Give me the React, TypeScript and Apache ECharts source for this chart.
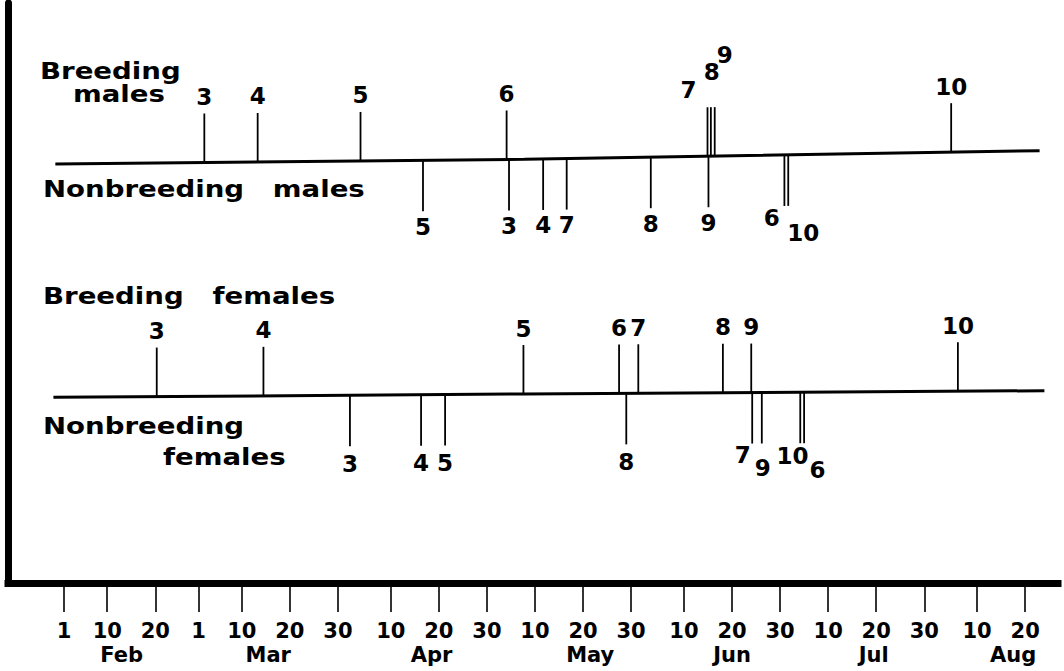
import React, { useEffect, useRef } from "react";
import * as echarts from "echarts";

// ---- Axis (day of year) ----
const tickDays = [32, 41, 51, 60, 69, 79, 89, 100, 110, 120, 130, 140, 150, 161, 171, 181, 191, 201, 211, 222, 232];
const tickLabels = ["1", "10", "20", "1", "10", "20", "30", "10", "20", "30", "10", "20", "30", "10", "20", "30", "10", "20", "30", "10", "20"];
const monthNames = ["Feb", "Mar", "Apr", "May", "Jun", "Jul", "Aug"];
const monthLabelDays = [44, 74.5, 108.5, 141.5, 171, 200.5, 229.5];

// ---- Events (day of year) with their numbers ----
const breedingMalesLabels = ["3", "4", "5", "6", "7", "8", "9", "10"];
const breedingMalesDays = [61.2, 72.3, 93.7, 124.1, 165.9, 166.6, 167.4, 216.6];
const nonbreedingMalesLabels = ["5", "3", "4", "7", "8", "9", "6", "10"];
const nonbreedingMalesDays = [106.7, 124.6, 131.7, 136.6, 154.1, 166.1, 181.9, 182.7];
const breedingFemalesLabels = ["3", "4", "5", "6", "7", "8", "9", "10"];
const breedingFemalesDays = [51.3, 73.5, 127.6, 147.5, 151.5, 169.1, 175.0, 218.0];
const nonbreedingFemalesLabels = ["3", "4", "5", "8", "7", "9", "10", "6"];
const nonbreedingFemalesDays = [91.5, 106.3, 111.3, 149.0, 175.2, 177.2, 185.2, 186.0];

// ---- Layout (not data) ----
const X_MIN = 20.35;
const X_MAX = 238.83;
const Y_MAX = 580;
const maleBaseline = { days: [30.2, 127.8, 235], levels: [419, 423.7, 432.3] };
const femaleBaseline = { days: [29.8, 127.8, 236], levels: [185.7, 189, 192.3] };
const UP_LEN = 49;
const DOWN_LEN = 51;
const UP_GAP = 16.5;
const DOWN_GAP_M = 15.5;
const DOWN_GAP_F = 17.5;
const maleUpOffsets: Record<string, number[]> = { "7": [-19, -1], "8": [1, -19], "9": [10, -36] };
const maleDownOffsets: Record<string, number[]> = { "6": [-12.6, -3.4], "10": [15, 11.6] };
const femaleUpOffsets: Record<string, number[]> = {};
const femaleDownOffsets: Record<string, number[]> = { "7": [-9.4, -6], "9": [1, 7.3], "10": [-7.7, -5], "6": [13.3, 9] };

const FONT = "DejaVu Sans";
const INK = "#000";

function baseLevel(bl: { days: number[]; levels: number[] }, day: number) {
  const d = bl.days, l = bl.levels;
  let i = 0;
  if (day >= d[1]) i = 1;
  const t = (day - d[i]) / (d[i + 1] - d[i]);
  return l[i] + t * (l[i + 1] - l[i]);
}

function markSeries(
  name: string,
  days: number[],
  labels: string[],
  baseline: { days: number[]; levels: number[] },
  dir: number,
  gap: number,
  offsets: Record<string, number[]>
) {
  return {
    type: "custom",
    name,
    coordinateSystem: "cartesian2d",
    silent: true,
    data: days.map((d) => [d, baseLevel(baseline, d)]),
    renderItem: (params: any, api: any) => {
      const i = params.dataIndex;
      const day = days[i];
      const lab = labels[i];
      const base = baseLevel(baseline, day);
      const tip = base + dir * (dir > 0 ? UP_LEN : DOWN_LEN);
      const p0 = api.coord([day, base]);
      const p1 = api.coord([day, tip]);
      const off = offsets[lab] || [0, 0];
      const ty = p1[1] + (dir > 0 ? -gap : gap) + off[1];
      return {
        type: "group",
        children: [
          {
            type: "line",
            shape: { x1: p0[0], y1: p0[1], x2: p1[0], y2: p1[1] },
            style: { stroke: INK, lineWidth: 1.8 },
          },
          {
            type: "text",
            x: p1[0] + off[0],
            y: ty,
            style: {
              text: lab,
              fill: INK,
              fontSize: 23,
              fontWeight: "bold",
              fontFamily: FONT,
              align: "center",
              verticalAlign: "middle",
            },
          },
        ],
      };
    },
  };
}

function baselineSeries(name: string, bl: { days: number[]; levels: number[] }) {
  return {
    type: "line",
    name,
    silent: true,
    showSymbol: false,
    symbol: "none",
    data: bl.days.map((d, i) => [d, bl.levels[i]]),
    lineStyle: { color: INK, width: 3 },
    z: 1,
  };
}

const titles = [
  { text: "Breeding", x: 40, y: 71 },
  { text: "males", x: 73, y: 93.5 },
  { text: "Nonbreeding   males", x: 43, y: 188.5 },
  { text: "Breeding   females", x: 43, y: 296 },
  { text: "Nonbreeding", x: 43, y: 425.5 },
  { text: "females", x: 163, y: 457 },
];

export default function App() {
  const ref = useRef<HTMLDivElement>(null);
  useEffect(() => {
    if (!ref.current) return;
    const chart = echarts.init(ref.current, null, { renderer: "svg" });
    const labelFont = { fontSize: 21, fontWeight: "bold", fontFamily: FONT, color: INK };
    chart.setOption({
      animation: false,
      backgroundColor: "#fff",
      grid: { left: 8, right: 6, top: 3, bottom: 88, containLabel: false },
      xAxis: [
        {
          type: "value",
          min: X_MIN,
          max: X_MAX,
          position: "bottom",
          axisLine: { show: true, onZero: false, lineStyle: { color: INK, width: 7, cap: "square" } },
          axisTick: { show: true, customValues: tickDays, length: 29, lineStyle: { color: INK, width: 1.6 } },
          axisLabel: {
            show: true,
            customValues: tickDays,
            margin: 37,
            formatter: (v: number) => {
              const k = tickDays.indexOf(v);
              return k >= 0 ? tickLabels[k] : "";
            },
            ...labelFont,
          },
          splitLine: { show: false },
        },
        {
          type: "value",
          min: X_MIN,
          max: X_MAX,
          position: "bottom",
          offset: 0,
          axisLine: { show: false },
          axisTick: { show: false },
          axisLabel: {
            show: true,
            customValues: monthLabelDays,
            margin: 61,
            formatter: (v: number) => {
              const k = monthLabelDays.indexOf(v);
              return k >= 0 ? monthNames[k] : "";
            },
            ...labelFont,
          },
          splitLine: { show: false },
        },
      ],
      yAxis: {
        type: "value",
        min: 0,
        max: Y_MAX,
        axisLine: { show: true, onZero: false, lineStyle: { color: INK, width: 7 } },
        axisTick: { show: false },
        axisLabel: { show: false },
        splitLine: { show: false },
      },
      graphic: titles.map((t) => ({
        type: "text",
        x: t.x,
        y: t.y,
        scaleX: 1.2,
        silent: true,
        style: {
          text: t.text,
          fill: INK,
          fontSize: 23,
          fontWeight: "bold",
          fontFamily: FONT,
          align: "left",
          verticalAlign: "middle",
        },
      })),
      series: [
        baselineSeries("males baseline", maleBaseline),
        baselineSeries("females baseline", femaleBaseline),
        markSeries("Breeding males", breedingMalesDays, breedingMalesLabels, maleBaseline, 1, UP_GAP, maleUpOffsets),
        markSeries("Nonbreeding males", nonbreedingMalesDays, nonbreedingMalesLabels, maleBaseline, -1, DOWN_GAP_M, maleDownOffsets),
        markSeries("Breeding females", breedingFemalesDays, breedingFemalesLabels, femaleBaseline, 1, UP_GAP, femaleUpOffsets),
        markSeries("Nonbreeding females", nonbreedingFemalesDays, nonbreedingFemalesLabels, femaleBaseline, -1, DOWN_GAP_F, femaleDownOffsets),
      ],
    });
    return () => chart.dispose();
  }, []);
  return (
    <div
      ref={ref}
      style={{ position: "absolute", left: 0, top: 0, width: 1064, height: 671, background: "#fff" }}
    />
  );
}
